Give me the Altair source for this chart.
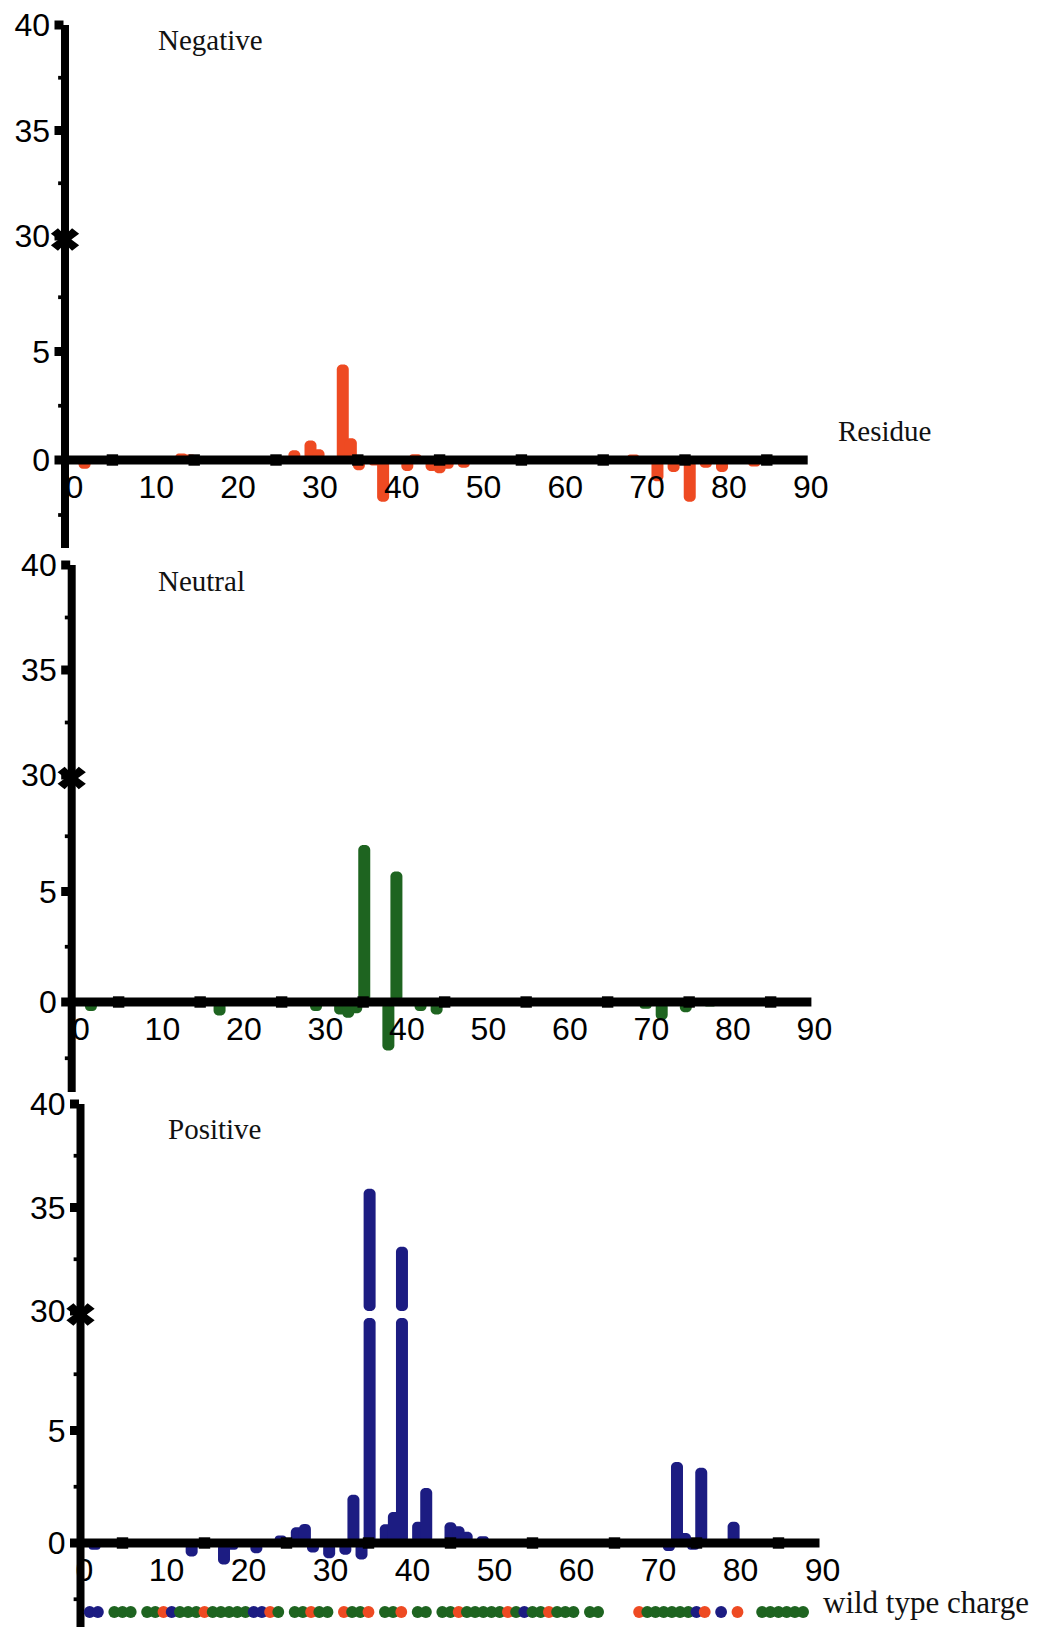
import altair as alt
import pandas as pd

# ---------------- data ----------------
neg_res = [1, 13, 14, 27, 29, 30, 33, 34, 35, 37, 38, 41, 42, 44, 45, 46, 48, 53, 69, 72, 74, 76, 78, 80, 84]
neg_val = [-0.4, 0.3, 0.25, 0.45, 0.9, 0.5, 4.4, 1.0, -0.47, -0.25, -1.9, -0.5, 0.27, -0.5, -0.6, -0.4,
           -0.35, -0.1, 0.25, -0.97, -0.55, -1.9, -0.35, -0.55, -0.3]

neu_res = [1, 13, 17, 21, 29, 30, 32, 33, 34, 35, 38, 39, 42, 44, 52, 70, 72, 75, 78]
neu_val = [-0.4, -0.15, -0.6, -0.1, -0.4, -0.15, -0.55, -0.7, -0.5, 7.1, -2.15, 5.9, -0.4, -0.55,
           -0.1, -0.3, -0.8, -0.45, -0.2]

pos_res = [1, 13, 17, 18, 21, 24, 26, 27, 28, 30, 32, 33, 34, 35, 37, 38, 39, 41, 42, 45, 46, 47, 49,
           63, 72, 73, 74, 75, 76, 78, 80]
pos_val = [-0.3, -0.6, -0.95, -0.3, -0.45, 0.33, 0.7, 0.85, -0.42, -0.68, -0.52, 2.15, -0.73, 35.9,
           0.83, 1.38, 33.1, 0.95, 2.45, 0.92, 0.75, 0.5, 0.3, -0.1, -0.35, 3.6, 0.45, -0.3, 3.35,
           -0.15, 0.95]

# wild type charge per residue 1..88 (B = positive, G = neutral, R = negative, - = none)
wt_codes = list("BB-GGG-GGRBGGGRGGGGGBBRG-GGRGG-RGGR-GGR-GG-GGRGGGGGRGBGGRGGG-GG----RGGGGGGBR-B-R--GGGGGG")

x_label_vals = [0, 10, 20, 30, 40, 50, 60, 70, 80, 90]
x_tick_vals = [5, 15, 25, 35, 45, 55, 65, 75, 85]
y_tick_vals = [0, 5, 30, 35, 40]
y_tick_text = ["0", "5", "30", "35", "40"]
y_minor_vals = [-2.5, 2.5, 7.5, 32.5, 37.5]

RED = "#EE4A22"
GREEN = "#1E6420"
BLUE = "#1C1C82"

# ---------------- layout (page pixels) ----------------
M = 8
panels = [
    dict(res=neg_res, val=neg_val, color=RED, title="Negative", tx=158, ty=50,
         x0=71.5, px=8.18, yaxis=65, ydom=[-4, 0, 10, 30, 40], yrng=[548, 460, 243, 236, 25]),
    dict(res=neu_res, val=neu_val, color=GREEN, title="Neutral", tx=158, ty=591,
         x0=77.9, px=8.15, yaxis=71.7, ydom=[-4, 0, 10, 30, 40], yrng=[1092, 1002, 781, 775, 565]),
    dict(res=pos_res, val=pos_val, color=BLUE, title="Positive", tx=168, ty=1139,
         x0=81.5, px=8.2, yaxis=80.5, ydom=[-4, 0, 10, 30, 40], yrng=[1633, 1543, 1318, 1311, 1104]),
]

NUMFONT = "Liberation Sans"
SERIF = "Liberation Serif"
XPATH = ("M-1,-0.4 L-0.5,-0.8 L0,-0.3 L0.5,-0.8 L1,-0.4 L0.45,0 L1,0.4 L0.5,0.8 "
         "L0,0.3 L-0.5,0.8 L-1,0.4 L-0.45,0 Z")


def xs(p):
    return alt.Scale(domain=[0, 90], range=[p["x0"] - M, p["x0"] + 90 * p["px"] - M], nice=False, zero=False)


def ys(p):
    return alt.Scale(domain=p["ydom"], range=[v - M for v in p["yrng"]], nice=False, zero=False)


layers = []
for p in panels:
    X = lambda f: alt.X(f, scale=xs(p), axis=None)
    Y = lambda f: alt.Y(f, scale=ys(p), axis=None)
    df = pd.DataFrame({"r": p["res"], "v": p["val"]})
    df["lo"] = df["v"].clip(upper=10)
    df["base"] = 0.0
    df["b30"] = 30.0
    low = alt.Chart(df).mark_bar(size=12, cornerRadius=5, color=p["color"]).encode(
        x=X("r:Q"), y=Y("lo:Q"), y2="base:Q")
    layers.append(low)
    up = df[df["v"] > 30]
    if len(up):
        layers.append(alt.Chart(up).mark_bar(size=12, cornerRadius=5, color=p["color"]).encode(
            x=X("r:Q"), y=Y("v:Q"), y2="b30:Q"))

    # x labels
    xl = pd.DataFrame({"x": x_label_vals, "t": [str(v) for v in x_label_vals], "z": 0.0})
    layers.append(alt.Chart(xl).mark_text(font=NUMFONT, fontSize=32, align="center", baseline="middle",
                                          dx=3, dy=28, color="black").encode(
        x=X("x:Q"), y=Y("z:Q"), text="t:N"))

    # y labels
    yl = pd.DataFrame({"y": y_tick_vals, "t": y_tick_text})
    layers.append(alt.Chart(yl).mark_text(font=NUMFONT, fontSize=32, align="right", baseline="middle",
                                          dy=1, color="black").encode(
        x=alt.value(p["yaxis"] - M - 15), y=Y("y:Q"), text="t:N"))

    # x axis line
    xstart = (p["yaxis"] - p["x0"]) / p["px"]
    xa = pd.DataFrame({"a": [xstart], "b": [90.0], "z": [0.0]})
    layers.append(alt.Chart(xa).mark_rule(strokeWidth=9, color="black").encode(
        x=X("a:Q"), x2="b:Q", y=Y("z:Q")))
    # y axis line
    ya = pd.DataFrame({"lo": [-4.0], "hi": [40.0]})
    layers.append(alt.Chart(ya).mark_rule(strokeWidth=8, color="black").encode(
        x=alt.value(p["yaxis"] - M), y=Y("lo:Q"), y2="hi:Q"))

    # x tick squares
    xt = pd.DataFrame({"x": x_tick_vals, "z": 0.0})
    layers.append(alt.Chart(xt).mark_square(size=130, color="black", opacity=1).encode(
        x=X("x:Q"), y=Y("z:Q")))
    # y major ticks
    yt = pd.DataFrame({"y": y_tick_vals})
    layers.append(alt.Chart(yt).mark_square(size=81, color="black", opacity=1).encode(
        x=alt.value(p["yaxis"] - M - 6), y=Y("y:Q")))
    # y minor ticks
    ym = pd.DataFrame({"y": y_minor_vals})
    layers.append(alt.Chart(ym).mark_square(size=14, color="black", opacity=1).encode(
        x=alt.value(p["yaxis"] - M - 5), y=Y("y:Q")))
    # axis break mark
    bk = pd.DataFrame({"y": [20.0]})
    layers.append(alt.Chart(bk).mark_point(shape=XPATH, size=800, filled=True, color="black",
                                           opacity=1).encode(
        x=alt.value(p["yaxis"] - M), y=Y("y:Q")))
    # panel title
    layers.append(alt.Chart(pd.DataFrame({"t": [p["title"]]})).mark_text(
        font=SERIF, fontSize=29, align="left", baseline="alphabetic", color="#111").encode(
        x=alt.value(p["tx"] - M), y=alt.value(p["ty"] - M), text="t:N"))

# "Residue" label of top panel
layers.append(alt.Chart(pd.DataFrame({"t": ["Residue"]})).mark_text(
    font=SERIF, fontSize=29, align="left", baseline="alphabetic", color="#111").encode(
    x=alt.value(838 - M), y=alt.value(441 - M), text="t:N"))

# wild type charge strip (bottom panel x scale)
pb = panels[2]
wt = pd.DataFrame({"r": list(range(1, len(wt_codes) + 1)), "c": wt_codes})
wt = wt[wt["c"] != "-"]
layers.append(alt.Chart(wt).mark_circle(size=140, opacity=1).encode(
    x=alt.X("r:Q", scale=xs(pb), axis=None),
    y=alt.value(1612 - M),
    color=alt.Color("c:N", scale=alt.Scale(domain=["R", "G", "B"], range=[RED, GREEN, BLUE]), legend=None)))
layers.append(alt.Chart(pd.DataFrame({"t": ["wild type charge"]})).mark_text(
    font=SERIF, fontSize=31, align="left", baseline="alphabetic", color="#111").encode(
    x=alt.value(823 - M), y=alt.value(1613 - M), text="t:N"))

chart = alt.layer(*layers).resolve_scale(x="independent", y="independent", color="independent").properties(
    width=1024, height=1619, padding=0, autosize=alt.AutoSizeParams(type="none")
).configure_view(stroke=None)

chart.save("out.html", embed_options={"renderer": "svg", "actions": False})
